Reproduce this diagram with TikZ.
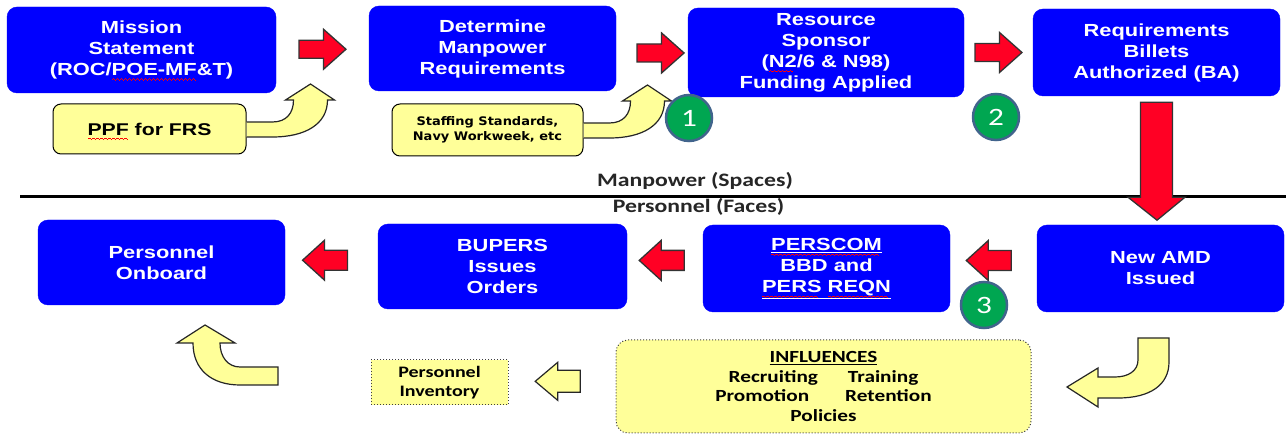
\documentclass[tikz,border=0pt]{standalone}
\usepackage{fontspec}
\usetikzlibrary{calc}
\newfontfamily\arialx[FakeStretch=1.25]{Liberation Sans}
\newfontfamily\calx[FakeStretch=1.25]{Carlito}
\newfontfamily\dejx[FakeStretch=1.1]{DejaVu Sans}
\definecolor{boxblue}{RGB}{0,0,255}
\definecolor{arrred}{RGB}{255,0,36}
\definecolor{pale}{RGB}{255,255,153}
\definecolor{dotgreen}{RGB}{0,166,81}
\definecolor{ringblue}{RGB}{65,100,140}
\newlength\sqlen
\newsavebox\wavebx
\sbox\wavebx{\color{red}\vrule height 0.6pt depth 0.4pt width 1pt\vrule height 1.3pt depth -0.3pt width 1pt\vrule height 0.6pt depth 0.4pt width 1pt\vrule height -0.1pt depth 1.1pt width 1pt}
\newcommand\sq[1]{\settowidth\sqlen{#1}\rlap{\raisebox{-4pt}[0pt][0pt]{\leaders\copy\wavebx\hskip\sqlen}}#1}
\newcommand\ul[1]{\rlap{\underline{\phantom{#1}}}}
\begin{document}
\begin{tikzpicture}[x=1pt,y=-1pt,
  bluebox/.style={draw=boxblue, fill=boxblue, rounded corners=10pt, text=white,
    font={\arialx\bfseries\fontsize{17.5}{21}\selectfont}, align=center, inner sep=0pt},
  palebox/.style={draw=black, line width=1pt, fill=pale, rounded corners=8pt, align=center, inner sep=0pt},
  dotbox/.style={draw=black!75, dotted, line width=1pt, fill=pale, align=center, inner sep=0pt},
  redarr/.style={draw=black!80, line width=1.3pt, fill=arrred, line join=miter},
  palefill/.style={fill=pale},
  paleline/.style={draw=black!85, line width=1.2pt, line join=miter},
  numdot/.style={circle, fill=dotgreen, draw=ringblue, line width=2.5pt, minimum size=46pt,
    inner sep=0pt, text=white, font={\calx\fontsize{25}{25}\selectfont}},
  rarrow/.pic={\path[redarr] (-23.5,-9) -- (1,-9) -- (1,-20) -- (23.5,0) -- (1,20) -- (1,9) -- (-23.5,9) -- cycle;},
  larrow/.pic={\path[redarr] (23,-10) -- (0,-10) -- (0,-20) -- (-22,0) -- (0,20) -- (0,10) -- (23,10) -- cycle;},
  plarrow/.pic={\path[paleline,fill=pale] (22.5,-11) -- (0,-11) -- (0,-19) -- (-22.5,0) -- (0,19) -- (0,11) -- (22.5,11) -- cycle;},
  bentup/.pic={
    \path[palefill] (0,-7) -- (26,-7) .. controls (40,-7) and (47,-16) .. (47,-29) -- (39,-29) -- (64,-45) -- (88,-29) -- (81,-29) .. controls (81,-5) and (59,8) .. (26,8) -- (0,8) -- cycle;
    \path[paleline] (0,-7) -- (26,-7) .. controls (40,-7) and (47,-16) .. (47,-29) -- (39,-29) -- (64,-45) -- (88,-29) -- (81,-29) .. controls (81,-5) and (59,8) .. (26,8) -- (0,8);}
]
\fill[white] (0,0) rectangle (1286,435);
\useasboundingbox (0,0) rectangle (1286,435);

% top row
\node[bluebox, minimum width=269pt, minimum height=86pt] (ms) at (141.5,50) {Mission\\Statement\\(ROC/\sq{POE-MF}\&T)};
\node[bluebox, minimum width=247pt, minimum height=85pt] (dm) at (492.5,48.5) {Determine\\Manpower\\Requirements};
\node[bluebox, minimum width=276pt, minimum height=89pt] (rs) at (826,52.5) {Resource\\Sponsor\\(\sq{N2}/6 \& N98)\\Funding Applied};
\node[bluebox, minimum width=247pt, minimum height=87pt] (rb) at (1156.5,52.5) {Requirements\\Billets\\Authorized (BA)};

% bottom row
\node[bluebox, minimum width=247pt, minimum height=85pt] (po) at (161.5,262.5) {Personnel\\Onboard};
\node[bluebox, minimum width=249pt, minimum height=85pt] (bu) at (502.5,266.5) {BUPERS\\Issues\\Orders};
\node[bluebox, minimum width=247pt, minimum height=87pt] (pc) at (826.5,268.5) {\ul{PERSCOM}\sq{PERSCOM}\\BBD and\\\ul{PERS REQN}\sq{PERS} \sq{REQN}};
\node[bluebox, minimum width=247pt, minimum height=87pt] (na) at (1160.5,268.5) {New AMD\\Issued};

% red connectors
\path ($(ms.east)!0.5!(dm.west)$) pic {rarrow};
\path ($(dm.east)!0.62!(rs.west)+(0,2)$) pic {rarrow};
\path ($(rs.east)!0.5!(rb.west)$) pic {rarrow};
\path ($(na.west)!0.56!(pc.east)+(0,-8)$) pic {larrow};
\path ($(pc.west)!0.55!(bu.east)+(0,-7)$) pic {larrow};
\path ($(bu.west)!0.575!(po.east)+(0,-4)$) pic {larrow};

% yellow side boxes and bent arrows
\node[palebox, minimum width=193pt, minimum height=50pt, font={\arialx\bfseries\fontsize{17}{20}\selectfont}] (ppf) at (149.5,129) {\sq{PPF} for FRS};
\node[palebox, minimum width=191pt, minimum height=52pt, font={\dejx\bfseries\fontsize{11.8}{14.5}\selectfont}] (ss) at (487.5,130) {Staffing Standards,\\Navy Workweek, etc};
\path (ppf.east) pic {bentup};
\path (ss.east) pic {bentup};

% divider
\draw[line width=3pt] (20,197) -- (1286,197);
\node[anchor=base, text=black!85, font={\calx\bfseries\fontsize{19}{19}\selectfont}] (mp) at (695,187) {Manpower (Spaces)};
\node[anchor=base, text=black!85, font={\calx\bfseries\fontsize{19}{19}\selectfont}] (pf) at (698.5,212.5) {Personnel (Faces)};

% big down arrow
\begin{scope}[shift={(rb.south)}]
\path[redarr] (-16,6) -- (16,6) -- (16,101) -- (28.5,101) -- (0.5,124) -- (-28.5,101) -- (-16,101) -- cycle;
\end{scope}

% influences and inventory
\node[dotbox, rounded corners=12pt, minimum width=415pt, minimum height=93pt, font={\calx\bfseries\fontsize{17}{19.5}\selectfont}] (inf) at (823.5,386.5)
  {\underline{INFLUENCES}\\Recruiting\hspace{30pt}Training\\Promotion\hspace{36pt}Retention\\Policies};
\node[dotbox, minimum width=137pt, minimum height=45pt, font={\calx\bfseries\fontsize{16}{19}\selectfont}] (pi) at (439.5,382.5) {Personnel\\Inventory};
\path ($(inf.west)!0.54!(pi.east)+(0,-3)$) pic {plarrow};

% bent arrow from New AMD to influences
\path[paleline, fill=pale] (1138,338) -- (1138,360) .. controls (1138,371) and (1128,377) .. (1115,377) -- (1098,377) -- (1098,368) -- (1067,387) -- (1098,407) -- (1098,398) -- (1118,398) .. controls (1150,398) and (1169,385) .. (1169,362) -- (1169,338) -- cycle;
% bent arrow up to Personnel Onboard
\path[paleline, fill=pale] (278,367) -- (240,367) .. controls (228,367) and (220,357) .. (220,343) -- (235,343) -- (205,325) -- (177,343) -- (193,343) .. controls (193,370) and (212,385) .. (240,385) -- (278,385) -- cycle;

% numbered dots
\node[numdot] (n1) at (689,118) {1};
\node[numdot] (n2) at (996,117) {2};
\node[numdot] (n3) at (984,305) {3};
\end{tikzpicture}
\end{document}
